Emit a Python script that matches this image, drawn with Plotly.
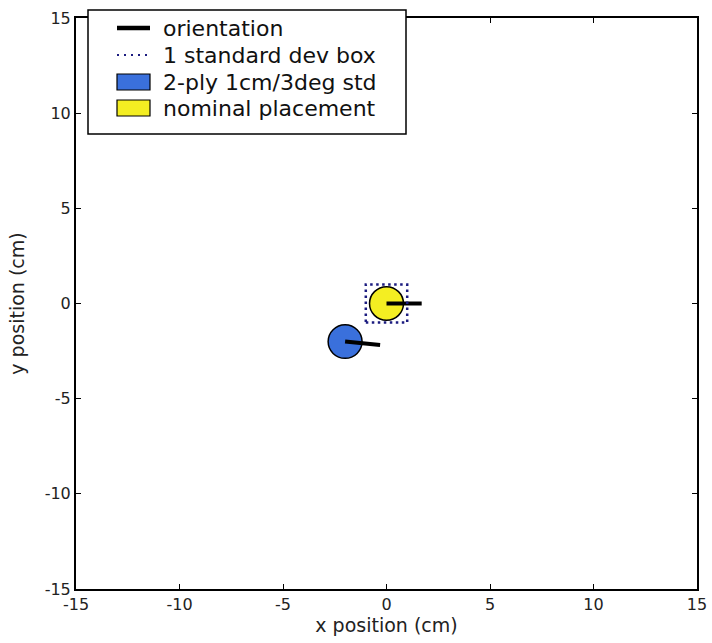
import math
import plotly.graph_objects as go

# Placement data (cm / degrees)
labels = ["nominal placement", "2-ply 1cm/3deg std"]
pos_x = [0.0, -2.0]
pos_y = [0.0, -2.0]
heading_deg = [0.0, -6.0]
fill_colors = ["#f4ee22", "#3a70dc"]

# 1-sigma box around the nominal placement (cm)
std_x = 1.0
std_y = 1.0

axis_ticks = [-15, -10, -5, 0, 5, 10, 15]
axis_range = [-15, 15]

# legend entries, top to bottom
legend_names = ["orientation", "1 standard dev box", "2-ply 1cm/3deg std", "nominal placement"]

# drawing styles
HEAD_LEN = 1.7          # length of the orientation stroke (cm)
R_X, R_Y = 0.82, 0.88   # circle radii in data units (axes are not equal-scaled)
FONT = "DejaVu Sans"
W, H = 712, 643
ML, MR, MT, MB = 76, 15, 18, 54
PW, PH = W - ML - MR, H - MT - MB
ORIENT_STYLE = dict(color="black", width=4)
STD_STYLE = dict(color="#1c1c80", width=2.5, dash="2.5px,3.5px")


def px_x(p):
    """pixel column -> paper x"""
    return (p - ML) / PW


def px_y(p):
    """pixel row -> paper y"""
    return (H - MB - p) / PH


fig = go.Figure()

# orientation strokes, one per placement
ox, oy = [], []
for x, y, th in zip(pos_x, pos_y, heading_deg):
    ox += [x, x + HEAD_LEN * math.cos(math.radians(th)), None]
    oy += [y, y + HEAD_LEN * math.sin(math.radians(th)), None]
fig.add_trace(go.Scatter(x=ox, y=oy, mode="lines", name=legend_names[0],
                         line=ORIENT_STYLE, showlegend=False))

# standard deviation box around nominal placement
cx, cy = pos_x[0], pos_y[0]
fig.add_trace(go.Scatter(
    x=[cx - std_x, cx + std_x, cx + std_x, cx - std_x, cx - std_x],
    y=[cy - std_y, cy - std_y, cy + std_y, cy + std_y, cy - std_y],
    mode="lines", name=legend_names[1], line=STD_STYLE, showlegend=False,
))

# placement discs
for lab, x, y, col in zip(labels, pos_x, pos_y, fill_colors):
    fig.add_shape(
        type="circle", xref="x", yref="y",
        x0=x - R_X, x1=x + R_X, y0=y - R_Y, y1=y + R_Y,
        fillcolor=col, line=dict(color="black", width=1.5), layer="below",
    )

# legend box (matplotlib style: handles as line samples / filled patches)
fig.add_shape(type="rect", xref="paper", yref="paper", layer="above",
              x0=px_x(88), x1=px_x(406), y0=px_y(134), y1=px_y(10),
              fillcolor="white", line=dict(color="black", width=1.5))
row_px = [28, 55, 82, 108]
hx0, hx1 = px_x(117), px_x(150)
patch_color = {lab: col for lab, col in zip(labels, fill_colors)}
for name, rp in zip(legend_names, row_px):
    yc = px_y(rp)
    if name == legend_names[0]:
        fig.add_shape(type="line", xref="paper", yref="paper", layer="above",
                      x0=hx0, x1=hx1, y0=yc, y1=yc, line=dict(ORIENT_STYLE, width=4.5))
    elif name == legend_names[1]:
        fig.add_shape(type="line", xref="paper", yref="paper", layer="above",
                      x0=hx0, x1=hx1, y0=yc, y1=yc,
                      line=dict(color=STD_STYLE["color"], width=2, dash="2px,5px"))
    else:
        fig.add_shape(type="rect", xref="paper", yref="paper", layer="above",
                      x0=hx0, x1=hx1, y0=yc - 8 / PH, y1=yc + 8 / PH,
                      fillcolor=patch_color[name], line=dict(color="black", width=1.2))
    fig.add_annotation(text=name, xref="paper", yref="paper", x=px_x(161), y=yc,
                       xanchor="left", yanchor="middle", showarrow=False,
                       font=dict(family=FONT, size=22, color="#111"))

axis_common = dict(
    range=axis_range, tickvals=axis_ticks, ticktext=[str(t) for t in axis_ticks],
    showgrid=False, zeroline=False, showline=True, linecolor="black", linewidth=2,
    mirror="ticks", ticks="inside", ticklen=5, tickwidth=1.2, tickcolor="black",
    tickfont=dict(family=FONT, size=16, color="#222"),
    title_font=dict(family=FONT, size=19, color="#222"),
    automargin=False,
)

fig.update_xaxes(title_text="x position (cm)", title_standoff=2, **axis_common)
fig.update_yaxes(title_text="y position (cm)", **axis_common)

fig.update_layout(
    width=W, height=H,
    margin=dict(l=ML, r=MR, t=MT, b=MB),
    paper_bgcolor="white", plot_bgcolor="white",
    showlegend=False,
)

fig.write_html("out.html")
